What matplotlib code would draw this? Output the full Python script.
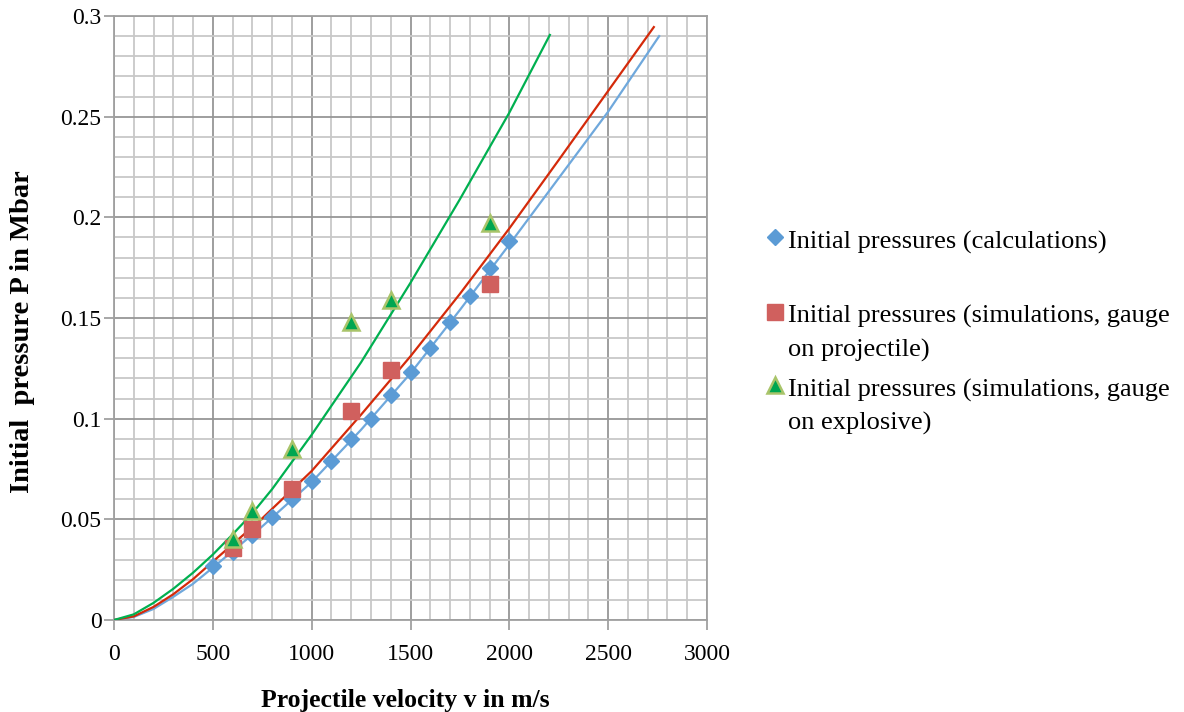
import matplotlib
matplotlib.use("Agg")
import matplotlib.pyplot as plt
from matplotlib.lines import Line2D
from matplotlib.ticker import MultipleLocator

plt.rcParams['font.family'] = ['Liberation Serif', 'DejaVu Serif']

# ---- data ----
calc_v = [500, 600, 700, 800, 900, 1000, 1100, 1200, 1300, 1400, 1500, 1600, 1700, 1800, 1900, 2000]
calc_p = [0.027, 0.034, 0.042, 0.051, 0.060, 0.069, 0.079, 0.090, 0.100, 0.112, 0.123, 0.135, 0.148, 0.161, 0.175, 0.188]

proj_v = [600, 700, 900, 1200, 1400, 1900]
proj_p = [0.036, 0.045, 0.065, 0.104, 0.124, 0.167]

expl_v = [600, 700, 900, 1200, 1400, 1900]
expl_p = [0.040, 0.054, 0.085, 0.148, 0.159, 0.197]

# trend lines
calc_fit_v = [0, 100, 200, 300, 400, 500, 750, 1000, 1250, 1500, 1750, 2000, 2250, 2500, 2758]
calc_fit_p = [0, 0.0015, 0.0055, 0.0115, 0.018, 0.026, 0.0465, 0.0685, 0.0945, 0.1225, 0.154, 0.1865, 0.2195, 0.2525, 0.290]

proj_fit_v = [0, 100, 200, 300, 400, 500, 750, 1000, 1250, 1500, 1750, 2000, 2250, 2500, 2731]
proj_fit_p = [0, 0.0018, 0.0065, 0.0128, 0.0203, 0.029, 0.0505, 0.074, 0.102, 0.131, 0.162, 0.1945, 0.2285, 0.2628, 0.2945]

expl_fit_v = [0, 100, 200, 300, 400, 500, 600, 700, 800, 1000, 1250, 1500, 1750, 2000, 2205]
expl_fit_p = [0, 0.0028, 0.0085, 0.0155, 0.0235, 0.0325, 0.0425, 0.053, 0.065, 0.092, 0.128, 0.1675, 0.209, 0.252, 0.2906]

legend_labels = [
    ["Initial pressures (calculations)"],
    ["Initial pressures (simulations, gauge", "on projectile)"],
    ["Initial pressures (simulations, gauge", "on explosive)"],
]

W, H = 1184, 712
fig = plt.figure(figsize=(W / 100, H / 100), dpi=100)
ax = fig.add_axes([114 / W, 1 - 620 / H, (707 - 114) / W, (620 - 16) / H])

blue_m = '#5B9BD5'
blue_l = '#6FA8DC'
red_m = '#D0605E'
red_l = '#D42A0A'
green_l = '#00B050'
green_m = '#00A651'
green_e = '#A9C46A'

ax.set_xlim(0, 3000)
ax.set_ylim(0, 0.3)
ax.xaxis.set_major_locator(MultipleLocator(500))
ax.xaxis.set_minor_locator(MultipleLocator(100))
ax.yaxis.set_major_locator(MultipleLocator(0.05))
ax.yaxis.set_minor_locator(MultipleLocator(0.01))
ax.grid(which='minor', color='#C8C8C8', linewidth=1.3, zorder=0)
ax.grid(which='major', color='#969696', linewidth=1.3, zorder=0)
ax.set_axisbelow(True)
for s in ax.spines.values():
    s.set_color('#A0A0A0')
    s.set_linewidth(1.3)
ax.tick_params(which='major', length=7, width=1.3, color='#A0A0A0', labelsize=17)
ax.tick_params(axis='x', which='major', pad=10)
ax.tick_params(axis='y', which='major', pad=2)
ax.tick_params(which='minor', length=0)

def fmt_y(v, pos):
    return ('%.2f' % v).rstrip('0').rstrip('.')
ax.yaxis.set_major_formatter(plt.FuncFormatter(fmt_y))

ax.plot(calc_fit_v, calc_fit_p, color=blue_l, lw=1.6, zorder=3)
ax.plot(proj_fit_v, proj_fit_p, color=red_l, lw=1.6, zorder=3)
ax.plot(expl_fit_v, expl_fit_p, color=green_l, lw=1.6, zorder=3)

ax.plot(calc_v, calc_p, 'D', color=blue_m, ms=8.5, mec=blue_m, zorder=4)
ax.plot(proj_v, proj_p, 's', color=red_m, ms=11, mec=red_m, zorder=4)
ax.plot(expl_v, expl_p, '^', color=green_m, ms=11, mec=green_e, mew=1.8, zorder=5)

fig.text(405 / W, 1 - 707 / H, 'Projectile velocity v in m/s', fontsize=18.5,
         fontweight='bold', ha='center', va='baseline')
fig.text(23 / W, 1 - 332 / H, 'Initial  pressure P in Mbar', fontsize=20.5,
         fontweight='bold', ha='center', va='center', rotation=90)

# legend drawn manually to match spacing
marker_specs = [
    dict(marker='D', color=blue_m, mec=blue_m, ms=8.5),
    dict(marker='s', color=red_m, mec=red_m, ms=11),
    dict(marker='^', color=green_m, mec=green_e, ms=11, mew=1.8),
]
marker_y = [237, 312, 385]
baselines = [[249], [323, 357], [397, 430]]
for spec, my, lines, bls in zip(marker_specs, marker_y, legend_labels, baselines):
    fig.add_artist(Line2D([775 / W], [1 - my / H], linestyle='none', transform=fig.transFigure, **spec))
    for txt, bl in zip(lines, bls):
        fig.text(788 / W, 1 - bl / H, txt, fontsize=19, va='baseline', ha='left')

fig.savefig('out.png', dpi=100)
